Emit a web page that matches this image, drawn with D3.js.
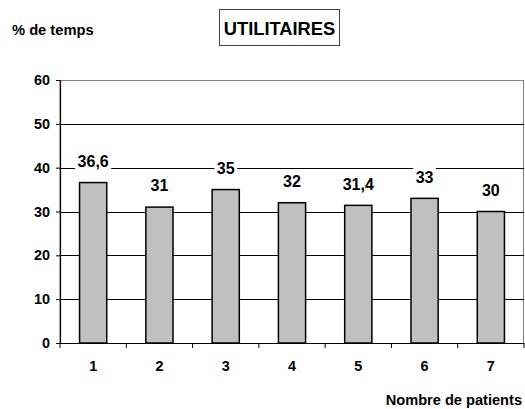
<!DOCTYPE html>
<html><head><meta charset="utf-8">
<script src="https://cdn.jsdelivr.net/npm/d3@7/dist/d3.min.js"></script>
<style>body{margin:0;background:#fff}svg{display:block;font-family:"Liberation Sans",Arial,sans-serif;font-weight:bold}</style>
</head><body>
<script>
const categories = ["1","2","3","4","5","6","7"];
const values = [36.6, 31, 35, 32, 31.4, 33, 30];
const valueLabels = ["36,6","31","35","32","31,4","33","30"];
const yTicks = [0,10,20,30,40,50,60];
const title = "UTILITAIRES";
const yTitle = "% de temps";
const xTitle = "Nombre de patients";

const W = 525, H = 409;
const m = {left:60, right:1, top:80, bottom:66};
const svg = d3.select("body").append("svg").attr("width",W).attr("height",H);
const x = d3.scaleBand().domain(categories).range([m.left, W-m.right]).paddingInner(0.59).paddingOuter(0.295);
const y = d3.scaleLinear().domain([0,60]).range([H-m.bottom, m.top]);
const xb = d3.scaleBand().domain(categories).range([m.left, W-m.right]);

// plot border
svg.append("rect").attr("x",m.left).attr("y",m.top+0.5).attr("width",W-m.right-m.left-0.5).attr("height",y(0)-m.top)
  .attr("fill","none").attr("stroke","#808080").attr("stroke-width",1);
// gridlines
svg.append("g").selectAll("line").data(yTicks.filter(d=>d>0&&d<60)).join("line")
  .attr("x1",m.left).attr("x2",W-m.right).attr("y1",d=>Math.round(y(d))+0.5).attr("y2",d=>Math.round(y(d))+0.5)
  .attr("stroke","#000").attr("stroke-width",1);

// y axis
const ya = svg.append("g").attr("transform",`translate(${m.left},0)`)
  .call(d3.axisLeft(y).tickValues(yTicks).tickSize(4).tickPadding(6));
ya.select(".domain").attr("stroke","#000").attr("stroke-width",1.2);
ya.selectAll("line").attr("stroke","#000");
ya.selectAll("text").attr("font-size",14.4).attr("font-family","Liberation Sans, Arial").attr("font-weight","bold").attr("fill","#000");

// x axis
const xa = svg.append("g").attr("transform",`translate(0,${y(0)})`)
  .call(d3.axisBottom(xb).tickSize(0).tickPadding(18));
xa.select(".domain").attr("stroke","#000").attr("stroke-width",1.2);
xa.selectAll("text").attr("font-size",14.4).attr("font-family","Liberation Sans, Arial").attr("font-weight","bold").attr("fill","#000");
svg.append("g").selectAll("line").data(d3.range(0, categories.length+1)).join("line")
  .attr("x1",i=>m.left+xb.step()*i).attr("x2",i=>m.left+xb.step()*i)
  .attr("y1",y(0)).attr("y2",y(0)+5).attr("stroke","#000");

// bars
svg.append("g").selectAll("rect").data(values).join("rect")
  .attr("x",(d,i)=>x(categories[i])).attr("width",x.bandwidth())
  .attr("y",d=>y(d)).attr("height",d=>y(0)-y(d))
  .attr("fill","#c0c0c0").attr("stroke","#000").attr("stroke-width",1.5);

// value labels with white background
const lg = svg.append("g").selectAll("g").data(values).join("g")
  .attr("transform",(d,i)=>`translate(${x(categories[i])+x.bandwidth()/2},${y(d)-21.5})`);
const bg = lg.append("rect").attr("y",-9).attr("height",18).attr("fill","#fff");
const lt = lg.append("text").text((d,i)=>valueLabels[i]).attr("text-anchor","middle").attr("dy","0.36em")
  .attr("font-size",16).attr("fill","#000");
lt.each(function(d,i){
  const w = this.getComputedTextLength();
  d3.select(this.parentNode).select("rect").attr("x",-w/2-2.5).attr("width",w+5);
});

// title
svg.append("rect").attr("x",219.5).attr("y",9.5).attr("width",120).attr("height",36)
  .attr("fill","#fff").attr("stroke","#404040").attr("stroke-width",1);
svg.append("text").attr("x",279.5).attr("y",28).attr("dy","0.36em").attr("text-anchor","middle")
  .attr("font-size",18.3).text(title);
svg.append("text").attr("x",12).attr("y",30).attr("dy","0.36em").attr("font-size",14.7).text(yTitle);
svg.append("text").attr("x",522).attr("y",404.5).attr("text-anchor","end").attr("font-size",14.6).text(xTitle);
</script>
</body></html>
